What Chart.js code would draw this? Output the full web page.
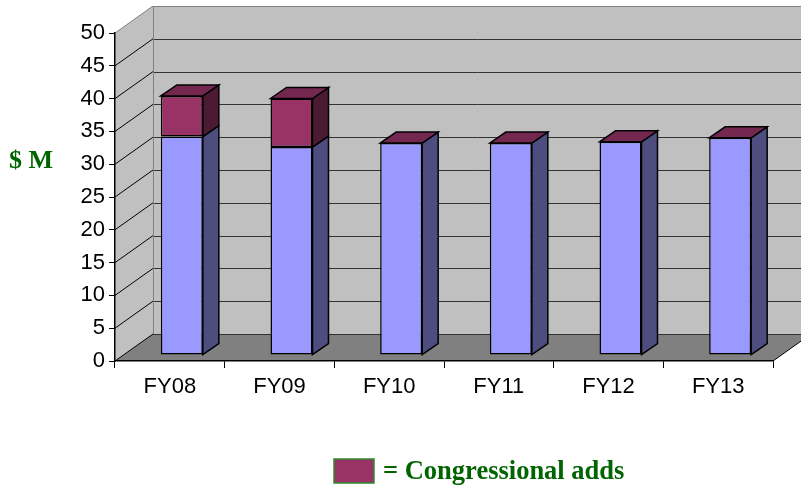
<!DOCTYPE html>
<html>
  <head>
    <script src="https://cdn.jsdelivr.net/npm/chart.js@4/dist/chart.umd.min.js"></script>
    <style>
      body { margin: 0; background: #fff; }
    </style>
  </head>

  <body>
    <canvas id="canvas" width="801" height="491"></canvas>
    <script>
      const categories = ['FY08', 'FY09', 'FY10', 'FY11', 'FY12', 'FY13'];
      const baseValues = [33.3, 31.7, 32.3, 32.3, 32.5, 33.1];
      const addValues = [6.2, 7.4, 0, 0, 0, 0];
      const yMax = 50;
      const yStep = 5;

      const GREEN = '#006400';
      // wall depth and bar placement inside the 3d box
      const DEPTH = { dx: 38, dy: -27 };
      const BAR_SHIFT = { dx: 12, dy: -6 };
      const BAR_DEPTH = { dx: 16, dy: -11 };

      function poly(ctx, pts, fill, stroke, lw) {
        ctx.beginPath();
        ctx.moveTo(pts[0][0], pts[0][1]);
        for (let i = 1; i < pts.length; i++) ctx.lineTo(pts[i][0], pts[i][1]);
        ctx.closePath();
        if (fill) { ctx.fillStyle = fill; ctx.fill(); }
        if (stroke) { ctx.strokeStyle = stroke; ctx.lineWidth = lw || 1; ctx.stroke(); }
      }

      const box3d = {
        id: 'box3d',
        beforeDraw(chart) {
          const { ctx, chartArea: a, scales } = chart;
          const y = scales.y;
          const W = chart.width;
          const y0 = y.getPixelForValue(0);
          const yTop = y.getPixelForValue(yMax);
          ctx.save();
          // back wall
          poly(ctx, [[a.left + DEPTH.dx, yTop + DEPTH.dy], [W + 2, yTop + DEPTH.dy],
            [W + 2, y0 + DEPTH.dy], [a.left + DEPTH.dx, y0 + DEPTH.dy]], '#c0c0c0');
          // left wall
          poly(ctx, [[a.left, yTop], [a.left + DEPTH.dx, yTop + DEPTH.dy],
            [a.left + DEPTH.dx, y0 + DEPTH.dy], [a.left, y0]], '#c0c0c0');
          // floor
          poly(ctx, [[a.left, y0], [a.right, y0], [a.right + DEPTH.dx, y0 + DEPTH.dy],
            [a.left + DEPTH.dx, y0 + DEPTH.dy]], '#808080');
          // grid lines on back and left walls
          for (let v = 0; v <= yMax; v += yStep) {
            const py = y.getPixelForValue(v);
            const top = v === yMax;
            ctx.strokeStyle = top ? '#808080' : '#333';
            ctx.lineWidth = 1;
            ctx.beginPath();
            ctx.moveTo(a.left + DEPTH.dx, Math.round(py + DEPTH.dy) + 0.5);
            ctx.lineTo(W + 2, Math.round(py + DEPTH.dy) + 0.5);
            ctx.stroke();
            ctx.strokeStyle = top ? '#808080' : '#000';
            ctx.beginPath();
            ctx.moveTo(a.left, py);
            ctx.lineTo(a.left + DEPTH.dx, py + DEPTH.dy);
            ctx.stroke();
          }
          // back wall left edge
          ctx.strokeStyle = '#808080';
          ctx.beginPath();
          ctx.moveTo(a.left + DEPTH.dx + 0.5, yTop + DEPTH.dy);
          ctx.lineTo(a.left + DEPTH.dx + 0.5, y0 + DEPTH.dy);
          ctx.stroke();
          // floor right edge
          ctx.strokeStyle = '#000';
          ctx.beginPath();
          ctx.moveTo(a.right, y0);
          ctx.lineTo(a.right + DEPTH.dx, y0 + DEPTH.dy);
          ctx.stroke();

          // axis title
          ctx.fillStyle = GREEN;
          ctx.font = 'bold 26px "Liberation Serif", "Times New Roman", serif';
          ctx.textAlign = 'left';
          ctx.textBaseline = 'middle';
          ctx.fillText('$ M', 9, 161);
          ctx.restore();
        },
        beforeDatasetsDraw(chart) {
          chart.ctx.save();
          chart.ctx.translate(BAR_SHIFT.dx, BAR_SHIFT.dy);
        },
        afterDatasetsDraw(chart) {
          const ctx = chart.ctx;
          const lower = chart.getDatasetMeta(0).data;
          const upper = chart.getDatasetMeta(1).data;
          const sideColors = ['#4d4d80', '#4d1a33'];
          lower.forEach((bar, i) => {
            const segs = [lower[i], upper[i]];
            const left = bar.x - bar.width / 2;
            const right = bar.x + bar.width / 2;
            segs.forEach((s, k) => {
              if (Math.abs(s.base - s.y) < 0.5) return;
              poly(ctx, [[right, s.y], [right + BAR_DEPTH.dx, s.y + BAR_DEPTH.dy],
                [right + BAR_DEPTH.dx, s.base + BAR_DEPTH.dy], [right, s.base]],
                sideColors[k], '#000', 1.5);
            });
            const top = Math.min(lower[i].y, upper[i].y);
            poly(ctx, [[left, top], [left + BAR_DEPTH.dx, top + BAR_DEPTH.dy],
              [right + BAR_DEPTH.dx, top + BAR_DEPTH.dy], [right, top]],
              '#742850', '#000', 1.5);
          });
          ctx.restore();
        },
        afterDraw(chart) {
          const ctx = chart.ctx;
          ctx.save();
          ctx.fillStyle = '#993366';
          ctx.fillRect(334, 459, 40, 24);
          ctx.strokeStyle = '#2e8b2e';
          ctx.lineWidth = 1.5;
          ctx.strokeRect(334, 459, 40, 24);
          ctx.fillStyle = GREEN;
          ctx.font = 'bold 26.5px "Liberation Serif", "Times New Roman", serif';
          ctx.textAlign = 'left';
          ctx.textBaseline = 'middle';
          ctx.fillText('= Congressional adds', 383, 472);
          ctx.restore();
        },
      };

      new Chart(document.getElementById('canvas').getContext('2d'), {
        type: 'bar',
        data: {
          labels: categories,
          datasets: [
            {
              label: 'Base',
              data: baseValues,
              backgroundColor: '#9999ff',
              borderColor: '#000',
              borderWidth: 1.5,
              borderSkipped: false,
            },
            {
              label: 'Congressional adds',
              data: addValues,
              backgroundColor: '#993366',
              borderColor: '#000',
              borderWidth: 1.5,
              borderSkipped: false,
            },
          ],
        },
        options: {
          responsive: false,
          animation: false,
          events: [],
          layout: { padding: { top: 33, right: 28, left: 0, bottom: 0 } },
          datasets: { bar: { barPercentage: 0.383, categoryPercentage: 1 } },
          plugins: {
            legend: { display: false },
            tooltip: { enabled: false },
          },
          scales: {
            x: {
              stacked: true,
              afterFit: (scale) => { scale.height = 130; },
              grid: { drawOnChartArea: false, drawTicks: true, tickLength: 7, color: '#000', offset: true },
              border: { display: true, color: '#000', width: 1.5 },
              ticks: {
                color: '#000',
                padding: 6,
                font: { family: '"Liberation Sans", Arial, sans-serif', size: 22 },
              },
            },
            y: {
              stacked: true,
              min: 0,
              max: yMax,
              afterFit: (scale) => { scale.width = 115; },
              grid: { drawOnChartArea: false, drawTicks: true, tickLength: 6, color: '#000' },
              border: { display: true, color: '#000', width: 1.5 },
              ticks: {
                stepSize: yStep,
                color: '#000',
                padding: 4,
                font: { family: '"Liberation Sans", Arial, sans-serif', size: 22 },
              },
            },
          },
        },
        plugins: [box3d],
      });
    </script>
  </body>
</html>
